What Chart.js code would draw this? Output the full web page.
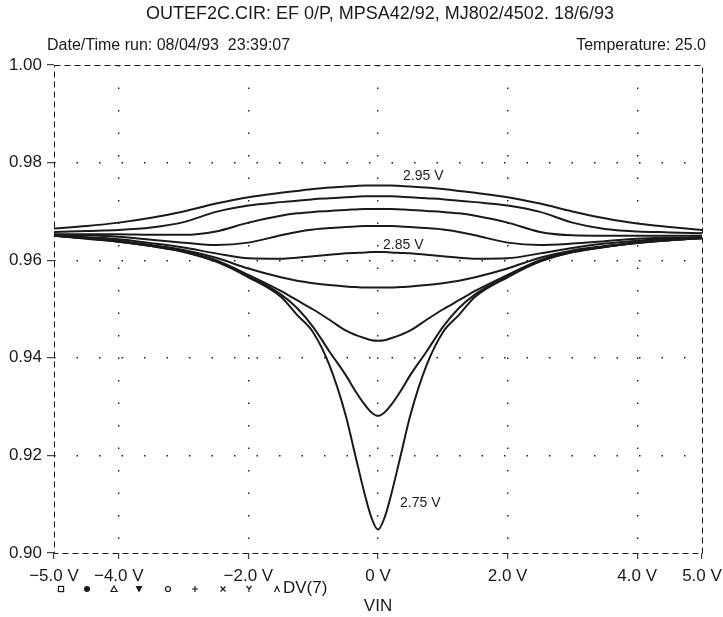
<!DOCTYPE html>
<html lang="en">
<head>
  <meta charset="UTF-8" />
  <title>OUTEF2C.CIR</title>
  <script src="https://cdn.jsdelivr.net/npm/chart.js"></script>
  <style>
    html, body { margin: 0; padding: 0; background: #fff; }
    #wrap { width: 723px; height: 617px; position: relative; }
  </style>
</head>
<body>
  <div id="wrap"><canvas id="chart"></canvas></div>

  <script>
    // VIN sweep points (V)
    const vin = [-5, -4.5, -4, -3.5, -3, -2.5, -2, -1.5, -1.25, -1, -0.75, -0.5, -0.35, -0.2, -0.1, 0,
                 0.1, 0.2, 0.35, 0.5, 0.75, 1, 1.25, 1.5, 2, 2.5, 3, 3.5, 4, 4.5, 5];

    // gain curves, one per DV(7) step
    const dv2950 = [0.9665, 0.9670, 0.9677, 0.9687, 0.9700, 0.9716, 0.9729, 0.9738, 0.9742, 0.9746, 0.9749, 0.9751, 0.9752, 0.9753, 0.9753, 0.9753,
                    0.9753, 0.9753, 0.9752, 0.9751, 0.9749, 0.9746, 0.9742, 0.9738, 0.9729, 0.9716, 0.9700, 0.9686, 0.9675, 0.9668, 0.9662];
    const dv2925 = [0.9658, 0.9660, 0.9662, 0.9667, 0.9678, 0.9699, 0.9712, 0.9719, 0.9722, 0.9725, 0.9727, 0.9729, 0.9730, 0.9731, 0.9731, 0.9731,
                    0.9731, 0.9731, 0.9730, 0.9729, 0.9727, 0.9725, 0.9722, 0.9719, 0.9712, 0.9699, 0.9677, 0.9664, 0.9659, 0.9657, 0.9655];
    const dv2900 = [0.9653, 0.9653, 0.9653, 0.9652, 0.9652, 0.9659, 0.9677, 0.9691, 0.9696, 0.9699, 0.9701, 0.9703, 0.9704, 0.9705, 0.9705, 0.9705,
                    0.9705, 0.9705, 0.9704, 0.9703, 0.9701, 0.9699, 0.9696, 0.9691, 0.9677, 0.9658, 0.9651, 0.9650, 0.9650, 0.9650, 0.9650];
    const dv2875 = [0.9652, 0.9651, 0.9648, 0.9642, 0.9636, 0.9631, 0.9636, 0.9651, 0.9658, 0.9663, 0.9666, 0.9668, 0.9669, 0.9670, 0.9670, 0.9670,
                    0.9670, 0.9670, 0.9669, 0.9668, 0.9666, 0.9663, 0.9658, 0.9651, 0.9636, 0.9631, 0.9634, 0.9639, 0.9644, 0.9646, 0.9647];
    const dv2850 = [0.9651, 0.9647, 0.9643, 0.9635, 0.9626, 0.9614, 0.9604, 0.9603, 0.9605, 0.9608, 0.9611, 0.9614, 0.9615, 0.9616, 0.9617, 0.9617,
                    0.9617, 0.9616, 0.9615, 0.9614, 0.9611, 0.9608, 0.9605, 0.9603, 0.9604, 0.9614, 0.9625, 0.9634, 0.9640, 0.9644, 0.9647];
    const dv2825 = [0.9651, 0.9646, 0.9640, 0.9631, 0.9621, 0.9605, 0.9583, 0.9565, 0.9558, 0.9553, 0.9549, 0.9546, 0.9545, 0.9544, 0.9544, 0.9544,
                    0.9544, 0.9544, 0.9545, 0.9546, 0.9549, 0.9553, 0.9558, 0.9565, 0.9583, 0.9605, 0.9620, 0.9629, 0.9637, 0.9642, 0.9646];
    const dv2800 = [0.9650, 0.9645, 0.9639, 0.9630, 0.9619, 0.9600, 0.9570, 0.9537, 0.9518, 0.9499, 0.9478, 0.9456, 0.9447, 0.9440, 0.9436, 0.9435,
                    0.9436, 0.9440, 0.9447, 0.9456, 0.9478, 0.9499, 0.9518, 0.9537, 0.9570, 0.9600, 0.9618, 0.9628, 0.9636, 0.9641, 0.9645];
    const dv2775 = [0.9650, 0.9645, 0.9638, 0.9629, 0.9618, 0.9598, 0.9567, 0.9530, 0.9502, 0.9463, 0.9413, 0.9365, 0.9332, 0.9303, 0.9288, 0.9281,
                    0.9288, 0.9303, 0.9332, 0.9365, 0.9413, 0.9463, 0.9502, 0.9530, 0.9567, 0.9598, 0.9617, 0.9627, 0.9635, 0.9641, 0.9645];
    const dv2750 = [0.9650, 0.9644, 0.9638, 0.9629, 0.9617, 0.9597, 0.9565, 0.9525, 0.9488, 0.9452, 0.9385, 0.9283, 0.9200, 0.9118, 0.9072, 0.9048,
                    0.9072, 0.9118, 0.9200, 0.9283, 0.9385, 0.9452, 0.9488, 0.9525, 0.9565, 0.9597, 0.9616, 0.9627, 0.9635, 0.9641, 0.9645];

    const curves = [dv2950, dv2925, dv2900, dv2875, dv2850, dv2825, dv2800, dv2775, dv2750];
    const curveNames = ['2.95 V', '2.925 V', '2.90 V', '2.875 V', '2.85 V', '2.825 V', '2.80 V', '2.775 V', '2.75 V'];

    const xTicks = [-5, -4, -2, 0, 2, 4, 5];
    const xTickLabels = ['\u22125.0 V', '\u22124.0 V', '\u22122.0 V', '0 V', '2.0 V', '4.0 V', '5.0 V'];
    const yTicks = [0.90, 0.92, 0.94, 0.96, 0.98, 1.00];

    const FONT = "'Liberation Sans', Arial, Helvetica, sans-serif";
    const INK = '#1a1a1a';

    // text, frame and marker legend that PSpice puts round the plot
    const decor = {
      id: 'decor',
      afterDraw(chart) {
        const ctx = chart.ctx;
        const a = chart.chartArea;
        ctx.save();

        // dashed frame
        ctx.strokeStyle = INK;
        ctx.lineWidth = 1;
        ctx.setLineDash([6, 4]);
        ctx.strokeRect(a.left + 0.5, a.top + 0.5, a.right - a.left, a.bottom - a.top);
        ctx.setLineDash([]);

        ctx.fillStyle = INK;
        ctx.textBaseline = 'middle';

        ctx.font = '18px ' + FONT;
        ctx.textAlign = 'center';
        ctx.fillText('OUTEF2C.CIR: EF 0/P, MPSA42/92, MJ802/4502. 18/6/93', 380, 14);
        ctx.font = '16px ' + FONT;
        ctx.textAlign = 'left';
        ctx.fillText('Date/Time run: 08/04/93  23:39:07', 47, 46);
        ctx.textAlign = 'right';
        ctx.fillText('Temperature: 25.0', 706, 46);

        // curve labels
        ctx.font = '14px ' + FONT;
        ctx.textAlign = 'left';
        ctx.fillText(curveNames[0], 403, 176);
        ctx.fillText(curveNames[4], 383, 245);
        ctx.fillText(curveNames[8], 400, 503);

        // axis title
        ctx.font = '17px ' + FONT;
        ctx.textAlign = 'center';
        ctx.fillText('VIN', 378, 606);

        // trace markers
        const y = 589;
        const s = 2.6;
        ctx.lineWidth = 1.2;
        let x = 61;
        ctx.strokeRect(x - s, y - s, 2 * s, 2 * s);
        x = 87;
        ctx.beginPath(); ctx.arc(x, y, 3, 0, Math.PI * 2); ctx.fill();
        x = 114;
        ctx.beginPath(); ctx.moveTo(x, y - 3); ctx.lineTo(x + 3, y + 2.5); ctx.lineTo(x - 3, y + 2.5); ctx.closePath(); ctx.stroke();
        x = 139;
        ctx.beginPath(); ctx.moveTo(x - 3.5, y - 3); ctx.lineTo(x + 3.5, y - 3); ctx.lineTo(x, y + 3.5); ctx.closePath(); ctx.fill();
        x = 168;
        ctx.beginPath(); ctx.arc(x, y, 2.5, 0, Math.PI * 2); ctx.stroke();
        x = 195;
        ctx.beginPath(); ctx.moveTo(x - 3, y); ctx.lineTo(x + 3, y); ctx.moveTo(x, y - 3); ctx.lineTo(x, y + 3); ctx.stroke();
        x = 223;
        ctx.beginPath(); ctx.moveTo(x - 2.5, y - 2.5); ctx.lineTo(x + 2.5, y + 2.5); ctx.moveTo(x + 2.5, y - 2.5); ctx.lineTo(x - 2.5, y + 2.5); ctx.stroke();
        x = 249;
        ctx.beginPath(); ctx.moveTo(x - 2.5, y - 3); ctx.lineTo(x, y); ctx.lineTo(x + 2.5, y - 3); ctx.moveTo(x, y); ctx.lineTo(x, y + 3); ctx.stroke();
        x = 277;
        ctx.beginPath(); ctx.moveTo(x - 2.5, y + 3); ctx.lineTo(x, y - 2.5); ctx.lineTo(x + 2.5, y + 3); ctx.stroke();

        ctx.font = '17px ' + FONT;
        ctx.textAlign = 'left';
        ctx.fillText('DV(7)', 283, 588);

        ctx.restore();
      }
    };

    const innerX = v => v > -5 && v < 5;
    const innerY = v => v > 0.901 && v < 0.999;

    new Chart(document.getElementById('chart'), {
      type: 'line',
      data: {
        datasets: curves.map((c, k) => ({
          label: curveNames[k],
          data: vin.map((v, i) => ({ x: v, y: c[i] })),
          borderColor: INK,
          borderWidth: 2,
          pointRadius: 0,
          fill: false,
          cubicInterpolationMode: 'monotone'
        }))
      },
      options: {
        responsive: true,
        maintainAspectRatio: false,
        animation: false,
        devicePixelRatio: 1,
        layout: { padding: { top: 65, right: 21, bottom: 0, left: 0 } },
        plugins: {
          legend: { display: false },
          tooltip: { enabled: false }
        },
        scales: {
          x: {
            type: 'linear',
            min: -5,
            max: 5,
            afterBuildTicks: s => { s.ticks = xTicks.map(v => ({ value: v })); },
            afterFit: s => { s.height = 64; s.paddingLeft = 0; s.paddingRight = 0; },
            ticks: {
              autoSkip: false,
              maxRotation: 0,
              padding: 7,
              color: INK,
              font: { size: 17, family: FONT },
              callback: v => xTickLabels[xTicks.indexOf(v)]
            },
            grid: {
              color: c => innerX(c.tick.value) ? INK : 'rgba(0,0,0,0)',
              lineWidth: 1.4,
              tickLength: 6,
              tickColor: INK,
              tickWidth: 1
            },
            border: { display: false, dash: [1.5, 21] }
          },
          y: {
            min: 0.9,
            max: 1.0,
            afterBuildTicks: s => { s.ticks = yTicks.map(v => ({ value: v })); },
            afterFit: s => { s.width = 54; },
            ticks: {
              padding: 5,
              color: INK,
              font: { size: 17, family: FONT },
              callback: v => v.toFixed(2)
            },
            grid: {
              color: c => innerY(c.tick.value) ? INK : 'rgba(0,0,0,0)',
              lineWidth: 1.4,
              tickLength: 7,
              tickColor: INK,
              tickWidth: 1
            },
            border: { display: false, dash: [1.5, 21] }
          }
        }
      },
      plugins: [decor]
    });
  </script>
</body>
</html>
